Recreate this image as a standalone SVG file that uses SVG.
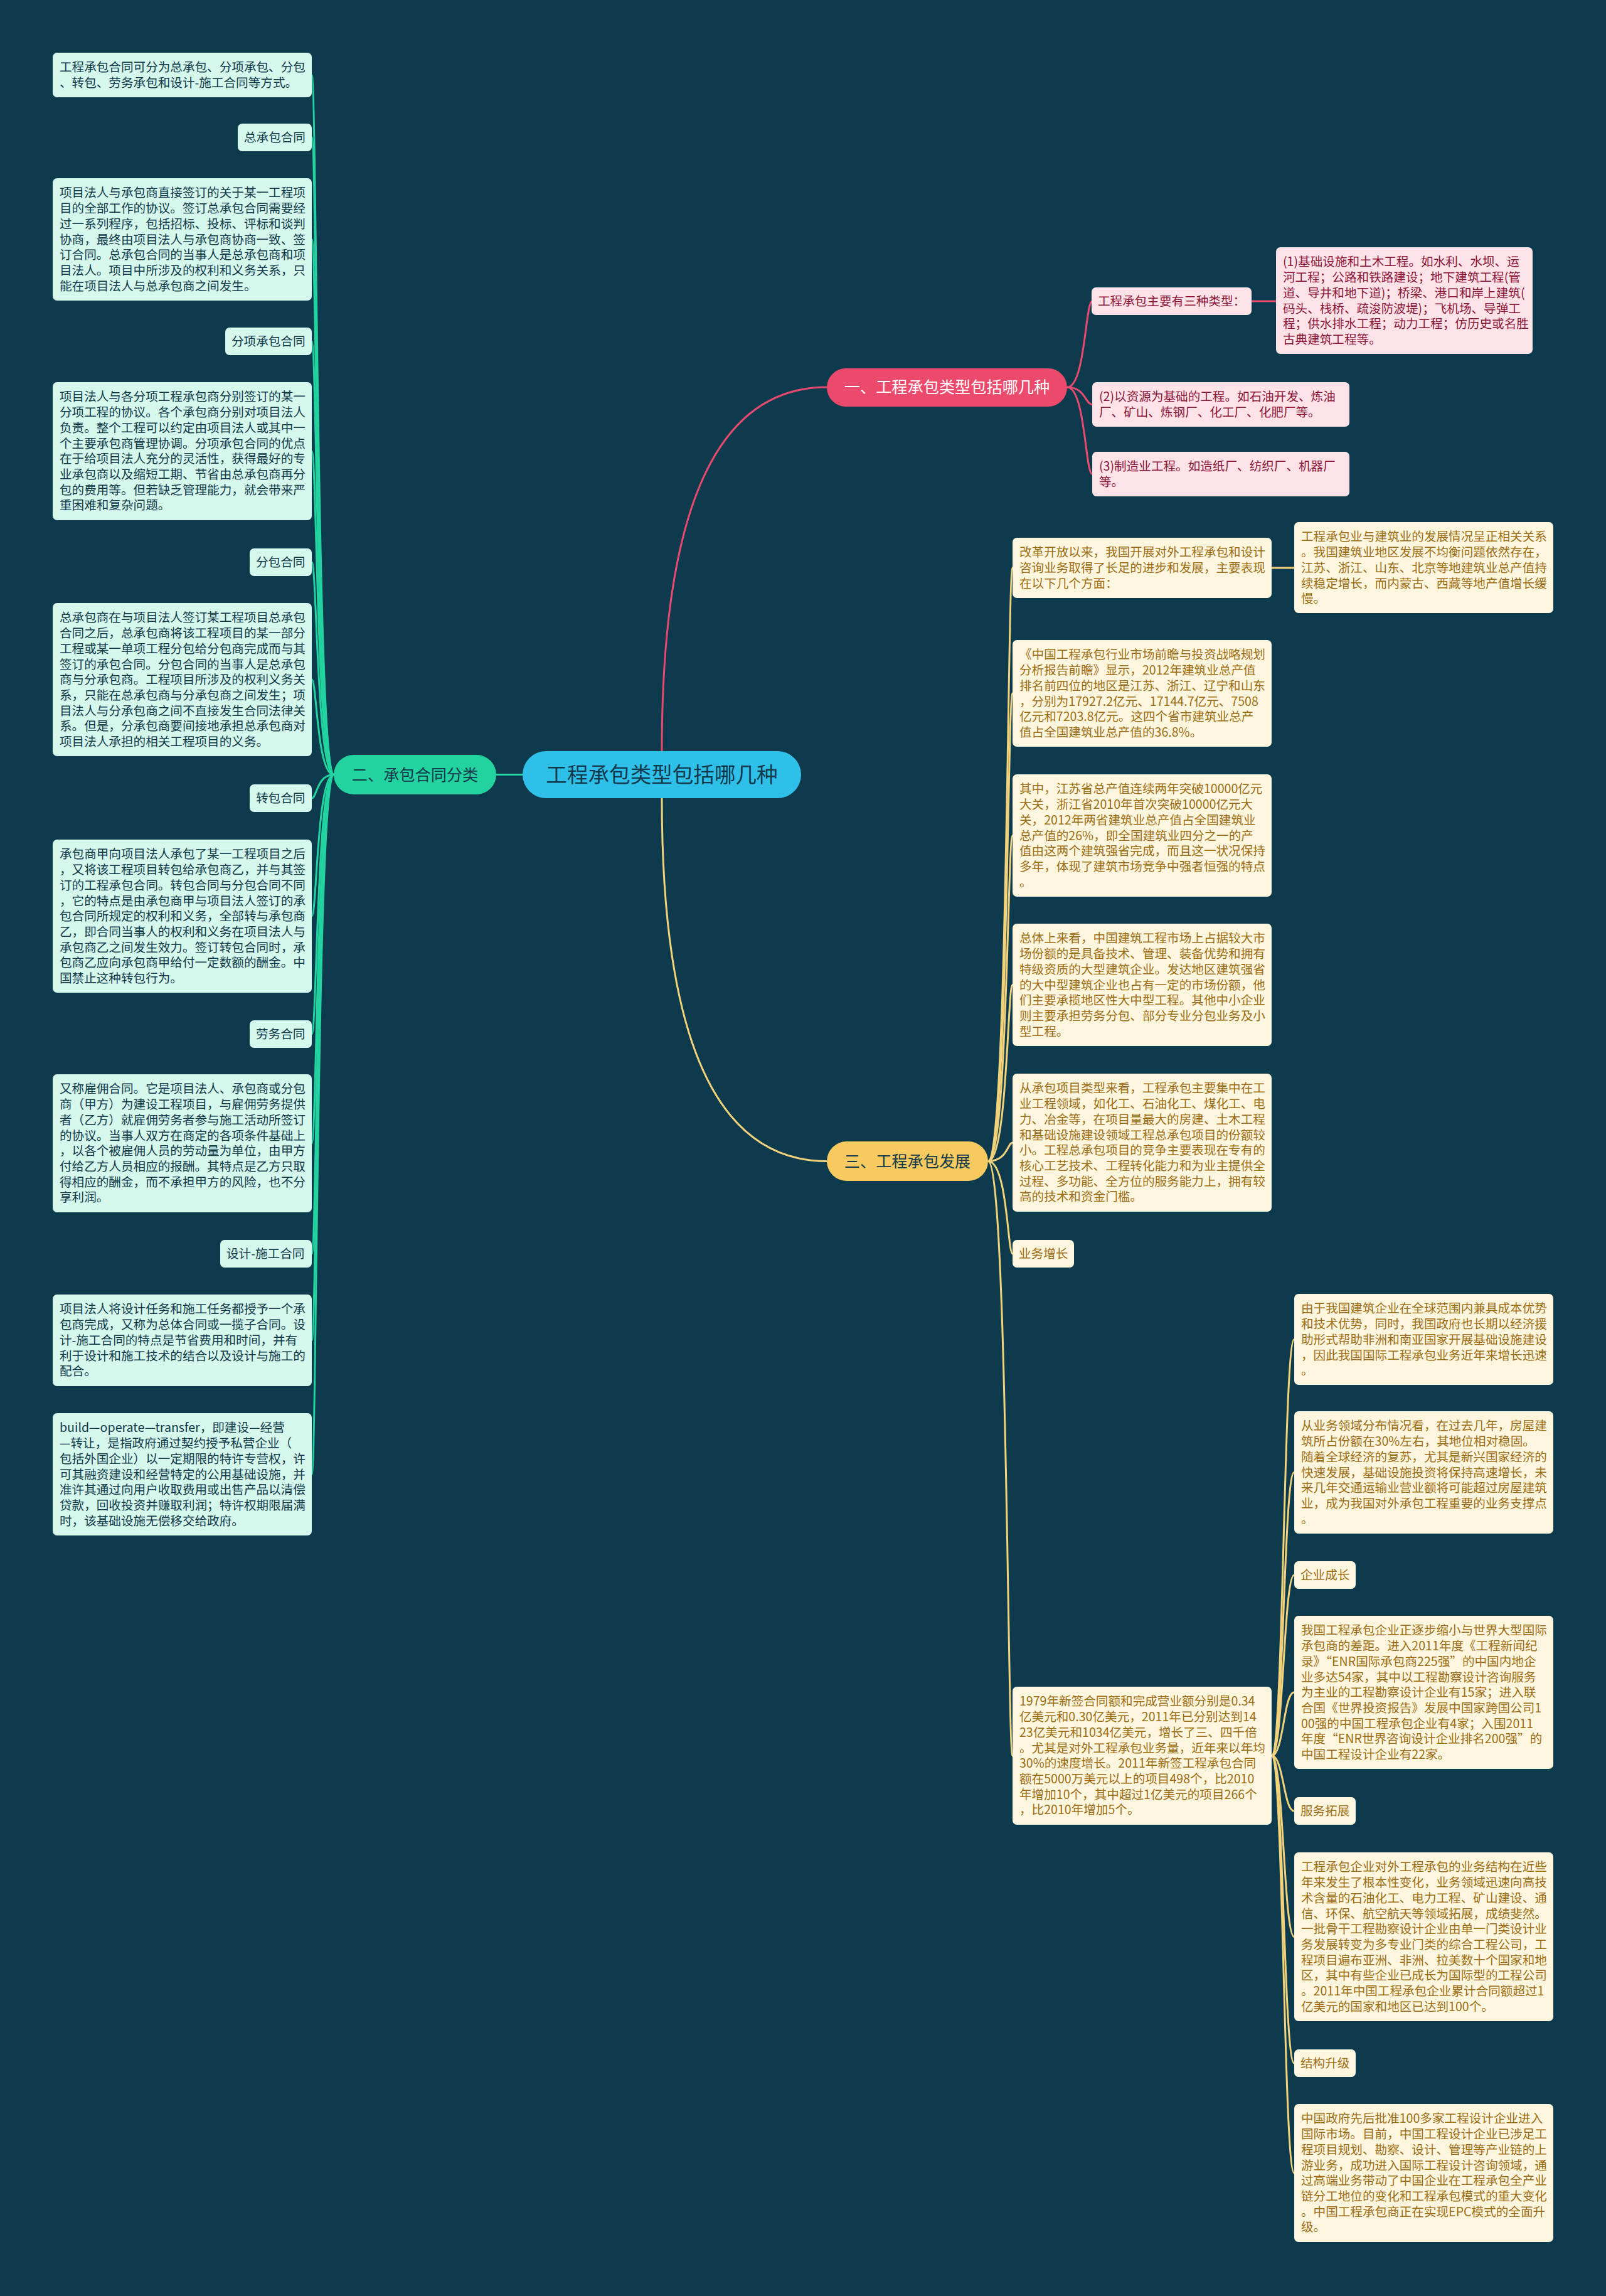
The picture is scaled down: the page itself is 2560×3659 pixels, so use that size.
<svg xmlns="http://www.w3.org/2000/svg" width="2560" height="3659" viewBox="0 0 2560 3659">
<style>
text{font-family:"Noto Sans CJK SC","Noto Sans",sans-serif;font-size:19.6px}
.c1 rect{fill:#fde2e7}.c1 text{fill:#8a1538}
.c2 rect{fill:#d5f7ec}.c2 text{fill:#10394a}
.c3 rect{fill:#fdf6df}.c3 text{fill:#9c6d12}
.lp{fill:none;stroke:#e8496f;stroke-width:3}
.lg{fill:none;stroke:#22d3a0;stroke-width:3}
.ly{fill:none;stroke:#f2d27a;stroke-width:3}
</style>
<rect width="2560" height="3659" fill="#0d3a4d"/>
<g id="connectors">
<path class="lp" stroke-width="3.5" d="M1055 1197 Q1055 617 1318 617"/>
<path class="ly" stroke-width="3.5" d="M1055 1272 Q1055 1850.5 1318 1850.5"/>
<path class="lg" stroke-width="3.5" d="M833 1234.5 L791 1234.5"/>
<path class="lp" d="M1701 617 C1730 617 1730 480 1741 480"/>
<path class="lp" d="M1701 617 C1730 617 1730 644.5 1741 644.5"/>
<path class="lp" d="M1701 617 C1730 617 1730 755.5 1741 755.5"/>
<path class="lp" d="M1995 480 L2034 480"/>
<path class="lg" d="M532 1234.5 C505 1234.5 505 119.7 497 119.7"/>
<path class="lg" d="M532 1234.5 C505 1234.5 505 219 497 219"/>
<path class="lg" d="M532 1234.5 C505 1234.5 505 381.5 497 381.5"/>
<path class="lg" d="M532 1234.5 C505 1234.5 505 544 497 544"/>
<path class="lg" d="M532 1234.5 C505 1234.5 505 719 497 719"/>
<path class="lg" d="M532 1234.5 C505 1234.5 505 896 497 896"/>
<path class="lg" d="M532 1234.5 C505 1234.5 505 1083 497 1083"/>
<path class="lg" d="M532 1234.5 C505 1234.5 505 1272 497 1272"/>
<path class="lg" d="M532 1234.5 C505 1234.5 505 1460 497 1460"/>
<path class="lg" d="M532 1234.5 C505 1234.5 505 1648 497 1648"/>
<path class="lg" d="M532 1234.5 C505 1234.5 505 1822 497 1822"/>
<path class="lg" d="M532 1234.5 C505 1234.5 505 1998 497 1998"/>
<path class="lg" d="M532 1234.5 C505 1234.5 505 2136 497 2136"/>
<path class="lg" d="M532 1234.5 C505 1234.5 505 2349.5 497 2349.5"/>
<path class="ly" d="M1575 1850.5 C1606 1850.5 1606 905 1614 905"/>
<path class="ly" d="M1575 1850.5 C1606 1850.5 1606 1105 1614 1105"/>
<path class="ly" d="M1575 1850.5 C1606 1850.5 1606 1331.5 1614 1331.5"/>
<path class="ly" d="M1575 1850.5 C1606 1850.5 1606 1569.5 1614 1569.5"/>
<path class="ly" d="M1575 1850.5 C1606 1850.5 1606 1821 1614 1821"/>
<path class="ly" d="M1575 1850.5 C1606 1850.5 1606 1998 1614 1998"/>
<path class="ly" d="M1575 1850.5 C1606 1850.5 1606 2798 1614 2798"/>
<path class="ly" d="M2027 905 L2063 905"/>
<path class="ly" d="M2027 2798 C2046 2798 2046 2134.5 2063 2134.5"/>
<path class="ly" d="M2027 2798 C2046 2798 2046 2346.5 2063 2346.5"/>
<path class="ly" d="M2027 2798 C2046 2798 2046 2510 2063 2510"/>
<path class="ly" d="M2027 2798 C2046 2798 2046 2697 2063 2697"/>
<path class="ly" d="M2027 2798 C2046 2798 2046 2886 2063 2886"/>
<path class="ly" d="M2027 2798 C2046 2798 2046 3086.5 2063 3086.5"/>
<path class="ly" d="M2027 2798 C2046 2798 2046 3288 2063 3288"/>
<path class="ly" d="M2027 2798 C2046 2798 2046 3463 2063 3463"/>
</g>

<g id="root">
<rect x="833" y="1197" width="444" height="75" rx="37.5" fill="#2fc0ea"/>
<text x="1055" y="1246.5" text-anchor="middle" style="font-size:33.6px" fill="#123a4c">工程承包类型包括哪几种</text>
</g>

<g id="branch1">
<rect x="1318" y="587" width="383" height="61" rx="30.5" fill="#ec4a6d"/>
<text x="1509.5" y="626" text-anchor="middle" style="font-size:25.2px" fill="#ffffff">一、工程承包类型包括哪几种</text>
</g>
<g id="branch2">
<rect x="532" y="1203" width="259" height="63" rx="31.5" fill="#22d3a0"/>
<text x="661.5" y="1243.5" text-anchor="middle" style="font-size:25.2px" fill="#123a4c">二、承包合同分类</text>
</g>
<g id="branch3">
<rect x="1318" y="1819" width="257" height="63" rx="31.5" fill="#f6ca5f"/>
<text x="1446.5" y="1859.5" text-anchor="middle" style="font-size:25.2px" fill="#123a4c">三、工程承包发展</text>
</g>

<g id="b1-types" class="c1"><rect x="1740" y="458" width="255" height="44" rx="7"/><text x="1750" y="487">工程承包主要有三种类型：</text></g>
<g id="b1-type1" class="c1"><rect x="2034" y="394" width="409" height="170" rx="7"/><text x="2045" y="424.4">(1)基础设施和土木工程。如水利、水坝、运<tspan x="2045" dy="24.7">河工程；公路和铁路建设；地下建筑工程(管</tspan><tspan x="2045" dy="24.7">道、导井和地下道)；桥梁、港口和岸上建筑(</tspan><tspan x="2045" dy="24.7">码头、栈桥、疏浚防波堤)；飞机场、导弹工</tspan><tspan x="2045" dy="24.7">程；供水排水工程；动力工程；仿历史或名胜</tspan><tspan x="2045" dy="24.7">古典建筑工程等。</tspan></text></g>
<g id="b1-type2" class="c1"><rect x="1741" y="609" width="410" height="71" rx="7"/><text x="1752" y="639.4">(2)以资源为基础的工程。如石油开发、炼油<tspan x="1752" dy="24.7">厂、矿山、炼钢厂、化工厂、化肥厂等。</tspan></text></g>
<g id="b1-type3" class="c1"><rect x="1741" y="720" width="410" height="71" rx="7"/><text x="1752" y="750.4">(3)制造业工程。如造纸厂、纺织厂、机器厂<tspan x="1752" dy="24.7">等。</tspan></text></g>

<g id="b2-intro" class="c2"><rect x="84" y="84" width="413" height="71" rx="7"/><text x="95" y="114.4">工程承包合同可分为总承包、分项承包、分包<tspan x="95" dy="24.7">、转包、劳务承包和设计-施工合同等方式。</tspan></text></g>
<g id="b2-general" class="c2"><rect x="379" y="197" width="118" height="44" rx="7"/><text x="389" y="226">总承包合同</text></g>
<g id="b2-general-d" class="c2"><rect x="84" y="284" width="413" height="195" rx="7"/><text x="95" y="314.4">项目法人与承包商直接签订的关于某一工程项<tspan x="95" dy="24.7">目的全部工作的协议。签订总承包合同需要经</tspan><tspan x="95" dy="24.7">过一系列程序，包括招标、投标、评标和谈判</tspan><tspan x="95" dy="24.7">协商，最终由项目法人与承包商协商一致、签</tspan><tspan x="95" dy="24.7">订合同。总承包合同的当事人是总承包商和项</tspan><tspan x="95" dy="24.7">目法人。项目中所涉及的权利和义务关系，只</tspan><tspan x="95" dy="24.7">能在项目法人与总承包商之间发生。</tspan></text></g>
<g id="b2-item" class="c2"><rect x="359" y="522" width="138" height="44" rx="7"/><text x="369" y="551">分项承包合同</text></g>
<g id="b2-item-d" class="c2"><rect x="84" y="609" width="413" height="220" rx="7"/><text x="95" y="639.4">项目法人与各分项工程承包商分别签订的某一<tspan x="95" dy="24.7">分项工程的协议。各个承包商分别对项目法人</tspan><tspan x="95" dy="24.7">负责。整个工程可以约定由项目法人或其中一</tspan><tspan x="95" dy="24.7">个主要承包商管理协调。分项承包合同的优点</tspan><tspan x="95" dy="24.7">在于给项目法人充分的灵活性，获得最好的专</tspan><tspan x="95" dy="24.7">业承包商以及缩短工期、节省由总承包商再分</tspan><tspan x="95" dy="24.7">包的费用等。但若缺乏管理能力，就会带来严</tspan><tspan x="95" dy="24.7">重困难和复杂问题。</tspan></text></g>
<g id="b2-sub" class="c2"><rect x="398" y="874" width="99" height="44" rx="7"/><text x="408" y="903">分包合同</text></g>
<g id="b2-sub-d" class="c2"><rect x="84" y="961" width="413" height="244" rx="7"/><text x="95" y="991.4">总承包商在与项目法人签订某工程项目总承包<tspan x="95" dy="24.7">合同之后，总承包商将该工程项目的某一部分</tspan><tspan x="95" dy="24.7">工程或某一单项工程分包给分包商完成而与其</tspan><tspan x="95" dy="24.7">签订的承包合同。分包合同的当事人是总承包</tspan><tspan x="95" dy="24.7">商与分承包商。工程项目所涉及的权利义务关</tspan><tspan x="95" dy="24.7">系，只能在总承包商与分承包商之间发生；项</tspan><tspan x="95" dy="24.7">目法人与分承包商之间不直接发生合同法律关</tspan><tspan x="95" dy="24.7">系。但是，分承包商要间接地承担总承包商对</tspan><tspan x="95" dy="24.7">项目法人承担的相关工程项目的义务。</tspan></text></g>
<g id="b2-trans" class="c2"><rect x="398" y="1250" width="99" height="44" rx="7"/><text x="408" y="1279">转包合同</text></g>
<g id="b2-trans-d" class="c2"><rect x="84" y="1338" width="413" height="244" rx="7"/><text x="95" y="1368.4">承包商甲向项目法人承包了某一工程项目之后<tspan x="95" dy="24.7">，又将该工程项目转包给承包商乙，并与其签</tspan><tspan x="95" dy="24.7">订的工程承包合同。转包合同与分包合同不同</tspan><tspan x="95" dy="24.7">，它的特点是由承包商甲与项目法人签订的承</tspan><tspan x="95" dy="24.7">包合同所规定的权利和义务，全部转与承包商</tspan><tspan x="95" dy="24.7">乙，即合同当事人的权利和义务在项目法人与</tspan><tspan x="95" dy="24.7">承包商乙之间发生效力。签订转包合同时，承</tspan><tspan x="95" dy="24.7">包商乙应向承包商甲给付一定数额的酬金。中</tspan><tspan x="95" dy="24.7">国禁止这种转包行为。</tspan></text></g>
<g id="b2-labor" class="c2"><rect x="398" y="1626" width="99" height="44" rx="7"/><text x="408" y="1655">劳务合同</text></g>
<g id="b2-labor-d" class="c2"><rect x="84" y="1712" width="413" height="220" rx="7"/><text x="95" y="1742.4">又称雇佣合同。它是项目法人、承包商或分包<tspan x="95" dy="24.7">商（甲方）为建设工程项目，与雇佣劳务提供</tspan><tspan x="95" dy="24.7">者（乙方）就雇佣劳务者参与施工活动所签订</tspan><tspan x="95" dy="24.7">的协议。当事人双方在商定的各项条件基础上</tspan><tspan x="95" dy="24.7">，以各个被雇佣人员的劳动量为单位，由甲方</tspan><tspan x="95" dy="24.7">付给乙方人员相应的报酬。其特点是乙方只取</tspan><tspan x="95" dy="24.7">得相应的酬金，而不承担甲方的风险，也不分</tspan><tspan x="95" dy="24.7">享利润。</tspan></text></g>
<g id="b2-db" class="c2"><rect x="351" y="1976" width="146" height="44" rx="7"/><text x="361" y="2005">设计-施工合同</text></g>
<g id="b2-db-d" class="c2"><rect x="84" y="2063" width="413" height="146" rx="7"/><text x="95" y="2093.4">项目法人将设计任务和施工任务都授予一个承<tspan x="95" dy="24.7">包商完成，又称为总体合同或一揽子合同。设</tspan><tspan x="95" dy="24.7">计-施工合同的特点是节省费用和时间，并有</tspan><tspan x="95" dy="24.7">利于设计和施工技术的结合以及设计与施工的</tspan><tspan x="95" dy="24.7">配合。</tspan></text></g>
<g id="b2-bot" class="c2"><rect x="84" y="2252" width="413" height="195" rx="7"/><text x="95" y="2282.4">build—operate—transfer，即建设—经营<tspan x="95" dy="24.7">—转让，是指政府通过契约授予私营企业（</tspan><tspan x="95" dy="24.7">包括外国企业）以一定期限的特许专营权，许</tspan><tspan x="95" dy="24.7">可其融资建设和经营特定的公用基础设施，并</tspan><tspan x="95" dy="24.7">准许其通过向用户收取费用或出售产品以清偿</tspan><tspan x="95" dy="24.7">贷款，回收投资并赚取利润；特许权期限届满</tspan><tspan x="95" dy="24.7">时，该基础设施无偿移交给政府。</tspan></text></g>

<g id="b3-a" class="c3"><rect x="1614" y="857" width="413" height="96" rx="7"/><text x="1625" y="887.4">改革开放以来，我国开展对外工程承包和设计<tspan x="1625" dy="24.7">咨询业务取得了长足的进步和发展，主要表现</tspan><tspan x="1625" dy="24.7">在以下几个方面：</tspan></text></g>
<g id="b3-b" class="c3"><rect x="1614" y="1020" width="413" height="170" rx="7"/><text x="1625" y="1050.4">《中国工程承包行业市场前瞻与投资战略规划<tspan x="1625" dy="24.7">分析报告前瞻》显示，2012年建筑业总产值</tspan><tspan x="1625" dy="24.7">排名前四位的地区是江苏、浙江、辽宁和山东</tspan><tspan x="1625" dy="24.7">，分别为17927.2亿元、17144.7亿元、7508</tspan><tspan x="1625" dy="24.7">亿元和7203.8亿元。这四个省市建筑业总产</tspan><tspan x="1625" dy="24.7">值占全国建筑业总产值的36.8%。</tspan></text></g>
<g id="b3-c" class="c3"><rect x="1614" y="1234" width="413" height="195" rx="7"/><text x="1625" y="1264.4">其中，江苏省总产值连续两年突破10000亿元<tspan x="1625" dy="24.7">大关，浙江省2010年首次突破10000亿元大</tspan><tspan x="1625" dy="24.7">关，2012年两省建筑业总产值占全国建筑业</tspan><tspan x="1625" dy="24.7">总产值的26%，即全国建筑业四分之一的产</tspan><tspan x="1625" dy="24.7">值由这两个建筑强省完成，而且这一状况保持</tspan><tspan x="1625" dy="24.7">多年，体现了建筑市场竞争中强者恒强的特点</tspan><tspan x="1625" dy="24.7">。</tspan></text></g>
<g id="b3-d" class="c3"><rect x="1614" y="1472" width="413" height="195" rx="7"/><text x="1625" y="1502.4">总体上来看，中国建筑工程市场上占据较大市<tspan x="1625" dy="24.7">场份额的是具备技术、管理、装备优势和拥有</tspan><tspan x="1625" dy="24.7">特级资质的大型建筑企业。发达地区建筑强省</tspan><tspan x="1625" dy="24.7">的大中型建筑企业也占有一定的市场份额，他</tspan><tspan x="1625" dy="24.7">们主要承揽地区性大中型工程。其他中小企业</tspan><tspan x="1625" dy="24.7">则主要承担劳务分包、部分专业分包业务及小</tspan><tspan x="1625" dy="24.7">型工程。</tspan></text></g>
<g id="b3-e" class="c3"><rect x="1614" y="1711" width="413" height="220" rx="7"/><text x="1625" y="1741.4">从承包项目类型来看，工程承包主要集中在工<tspan x="1625" dy="24.7">业工程领域，如化工、石油化工、煤化工、电</tspan><tspan x="1625" dy="24.7">力、冶金等，在项目量最大的房建、土木工程</tspan><tspan x="1625" dy="24.7">和基础设施建设领域工程总承包项目的份额较</tspan><tspan x="1625" dy="24.7">小。工程总承包项目的竞争主要表现在专有的</tspan><tspan x="1625" dy="24.7">核心工艺技术、工程转化能力和为业主提供全</tspan><tspan x="1625" dy="24.7">过程、多功能、全方位的服务能力上，拥有较</tspan><tspan x="1625" dy="24.7">高的技术和资金门槛。</tspan></text></g>
<g id="b3-f" class="c3"><rect x="1614" y="1976" width="98" height="44" rx="7"/><text x="1624" y="2005">业务增长</text></g>
<g id="b3-g" class="c3"><rect x="1614" y="2688" width="413" height="220" rx="7"/><text x="1625" y="2718.4">1979年新签合同额和完成营业额分别是0.34<tspan x="1625" dy="24.7">亿美元和0.30亿美元，2011年已分别达到14</tspan><tspan x="1625" dy="24.7">23亿美元和1034亿美元，增长了三、四千倍</tspan><tspan x="1625" dy="24.7">。尤其是对外工程承包业务量，近年来以年均</tspan><tspan x="1625" dy="24.7">30%的速度增长。2011年新签工程承包合同</tspan><tspan x="1625" dy="24.7">额在5000万美元以上的项目498个，比2010</tspan><tspan x="1625" dy="24.7">年增加10个，其中超过1亿美元的项目266个</tspan><tspan x="1625" dy="24.7">，比2010年增加5个。</tspan></text></g>
<g id="b3-h" class="c3"><rect x="2063" y="832" width="413" height="145" rx="7"/><text x="2074" y="862.4">工程承包业与建筑业的发展情况呈正相关关系<tspan x="2074" dy="24.7">。我国建筑业地区发展不均衡问题依然存在，</tspan><tspan x="2074" dy="24.7">江苏、浙江、山东、北京等地建筑业总产值持</tspan><tspan x="2074" dy="24.7">续稳定增长，而内蒙古、西藏等地产值增长缓</tspan><tspan x="2074" dy="24.7">慢。</tspan></text></g>
<g id="b3-i" class="c3"><rect x="2063" y="2062" width="413" height="145" rx="7"/><text x="2074" y="2092.4">由于我国建筑企业在全球范围内兼具成本优势<tspan x="2074" dy="24.7">和技术优势，同时，我国政府也长期以经济援</tspan><tspan x="2074" dy="24.7">助形式帮助非洲和南亚国家开展基础设施建设</tspan><tspan x="2074" dy="24.7">，因此我国国际工程承包业务近年来增长迅速</tspan><tspan x="2074" dy="24.7">。</tspan></text></g>
<g id="b3-j" class="c3"><rect x="2063" y="2249" width="413" height="195" rx="7"/><text x="2074" y="2279.4">从业务领域分布情况看，在过去几年，房屋建<tspan x="2074" dy="24.7">筑所占份额在30%左右，其地位相对稳固。</tspan><tspan x="2074" dy="24.7">随着全球经济的复苏，尤其是新兴国家经济的</tspan><tspan x="2074" dy="24.7">快速发展，基础设施投资将保持高速增长，未</tspan><tspan x="2074" dy="24.7">来几年交通运输业营业额将可能超过房屋建筑</tspan><tspan x="2074" dy="24.7">业，成为我国对外承包工程重要的业务支撑点</tspan><tspan x="2074" dy="24.7">。</tspan></text></g>
<g id="b3-k" class="c3"><rect x="2063" y="2488" width="98" height="44" rx="7"/><text x="2073" y="2517">企业成长</text></g>
<g id="b3-l" class="c3"><rect x="2063" y="2575" width="413" height="244" rx="7"/><text x="2074" y="2605.4">我国工程承包企业正逐步缩小与世界大型国际<tspan x="2074" dy="24.7">承包商的差距。进入2011年度《工程新闻纪</tspan><tspan x="2074" dy="24.7">录》“ENR国际承包商225强”的中国内地企</tspan><tspan x="2074" dy="24.7">业多达54家，其中以工程勘察设计咨询服务</tspan><tspan x="2074" dy="24.7">为主业的工程勘察设计企业有15家；进入联</tspan><tspan x="2074" dy="24.7">合国《世界投资报告》发展中国家跨国公司1</tspan><tspan x="2074" dy="24.7">00强的中国工程承包企业有4家；入围2011</tspan><tspan x="2074" dy="24.7">年度“ENR世界咨询设计企业排名200强”的</tspan><tspan x="2074" dy="24.7">中国工程设计企业有22家。</tspan></text></g>
<g id="b3-m" class="c3"><rect x="2063" y="2864" width="98" height="44" rx="7"/><text x="2073" y="2893">服务拓展</text></g>
<g id="b3-n" class="c3"><rect x="2063" y="2952" width="413" height="269" rx="7"/><text x="2074" y="2982.4">工程承包企业对外工程承包的业务结构在近些<tspan x="2074" dy="24.7">年来发生了根本性变化，业务领域迅速向高技</tspan><tspan x="2074" dy="24.7">术含量的石油化工、电力工程、矿山建设、通</tspan><tspan x="2074" dy="24.7">信、环保、航空航天等领域拓展，成绩斐然。</tspan><tspan x="2074" dy="24.7">一批骨干工程勘察设计企业由单一门类设计业</tspan><tspan x="2074" dy="24.7">务发展转变为多专业门类的综合工程公司，工</tspan><tspan x="2074" dy="24.7">程项目遍布亚洲、非洲、拉美数十个国家和地</tspan><tspan x="2074" dy="24.7">区，其中有些企业已成长为国际型的工程公司</tspan><tspan x="2074" dy="24.7">。2011年中国工程承包企业累计合同额超过1</tspan><tspan x="2074" dy="24.7">亿美元的国家和地区已达到100个。</tspan></text></g>
<g id="b3-o" class="c3"><rect x="2063" y="3266" width="98" height="44" rx="7"/><text x="2073" y="3295">结构升级</text></g>
<g id="b3-p" class="c3"><rect x="2063" y="3353" width="413" height="220" rx="7"/><text x="2074" y="3383.4">中国政府先后批准100多家工程设计企业进入<tspan x="2074" dy="24.7">国际市场。目前，中国工程设计企业已涉足工</tspan><tspan x="2074" dy="24.7">程项目规划、勘察、设计、管理等产业链的上</tspan><tspan x="2074" dy="24.7">游业务，成功进入国际工程设计咨询领域，通</tspan><tspan x="2074" dy="24.7">过高端业务带动了中国企业在工程承包全产业</tspan><tspan x="2074" dy="24.7">链分工地位的变化和工程承包模式的重大变化</tspan><tspan x="2074" dy="24.7">。中国工程承包商正在实现EPC模式的全面升</tspan><tspan x="2074" dy="24.7">级。</tspan></text></g>
</svg>
